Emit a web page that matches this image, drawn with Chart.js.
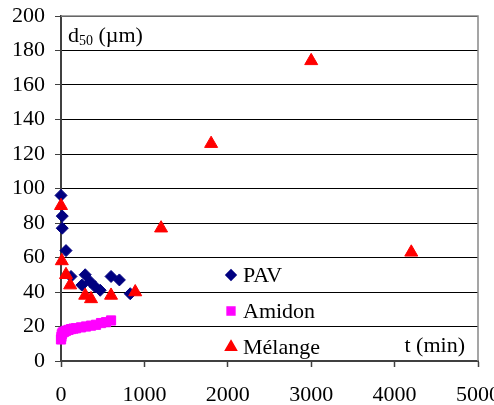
<!DOCTYPE html>
<html>
<head>
<meta charset="utf-8">
<script src="https://cdn.jsdelivr.net/npm/chart.js@4/dist/chart.umd.min.js"></script>
<style>
  body { margin: 0; background: #fff; }
  canvas { display: block; }
</style>
</head>
<body>
<canvas id="chart" width="494" height="405"></canvas>
<script>
// data: t in min, d50 in um
const pavT = [0, 15, 15, 60, 120, 250, 290, 350, 410, 470, 600, 700, 830];
const pavD = [96, 84, 77, 64, 49, 44, 50, 46, 43, 41, 49, 47, 39];

const amidonT = [0, 5, 10, 20, 40, 60, 90, 120, 150, 180, 240, 300, 360, 420, 480, 540, 600];
const amidonD = [12.5, 14, 15.5, 16.5, 17, 17.5, 18, 18.5, 18.8, 19, 19.5, 20, 20.5, 21, 22, 22.5, 23.5];

const melangeT = [0, 10, 60, 110, 290, 360, 600, 890, 1200, 1800, 3000, 4200];
const melangeD = [90, 58, 50, 44, 38, 36, 38, 40, 77, 126, 174, 63];

const yTicks = [0, 20, 40, 60, 80, 100, 120, 140, 160, 180, 200];
const xTicks = [0, 1000, 2000, 3000, 4000, 5000];

const FONT = "'Liberation Serif', 'Times New Roman', serif";

function toPoints(xs, ys) {
  return xs.map((x, i) => ({ x: x, y: ys[i] }));
}

const series = [
  { label: "PAV", x: pavT, y: pavD, color: "#000080", style: "rectRot", radius: 6, order: 1 },
  { label: "Amidon", x: amidonT, y: amidonD, color: "#FF00FF", style: "rect", radius: 6.5, order: 2 },
  { label: "Mélange", x: melangeT, y: melangeD, color: "#FF0000", style: "triangle", radius: 7.5, order: 0 }
];

// frame, axis titles and the legend inside the plot
const extras = {
  id: "extras",
  afterDraw(chart) {
    const ctx = chart.ctx;
    const a = chart.chartArea;
    ctx.save();
    ctx.strokeStyle = "#888888";
    ctx.lineWidth = 1.5;
    ctx.beginPath();
    ctx.moveTo(a.left, a.top);
    ctx.lineTo(a.right, a.top);
    ctx.lineTo(a.right, a.bottom);
    ctx.stroke();

    ctx.fillStyle = "#000";
    ctx.textBaseline = "alphabetic";
    ctx.textAlign = "left";
    ctx.font = "22px " + FONT;
    ctx.fillText("d", 68, 42);
    let w = ctx.measureText("d").width;
    ctx.font = "14px " + FONT;
    ctx.fillText("50", 68 + w, 45);
    w += ctx.measureText("50").width;
    ctx.font = "22px " + FONT;
    ctx.fillText(" (µm)", 68 + w, 42);

    ctx.textAlign = "right";
    ctx.fillText("t (min)", 465, 352);

    const rows = [275, 311, 347];
    series.forEach((s, i) => {
      ctx.fillStyle = s.color;
      ctx.strokeStyle = s.color;
      Chart.helpers.drawPoint(ctx, { pointStyle: s.style, radius: s.radius * 0.85, rotation: 0, borderWidth: 1 }, 231, rows[i]);
      ctx.fillStyle = "#000";
      ctx.textAlign = "left";
      ctx.textBaseline = "middle";
      ctx.fillText(s.label, 243, rows[i] + 1);
    });
    ctx.restore();
  }
};

// keep the plot area fixed, let edge labels overhang
function noEdgePadding(scale) {
  scale.paddingLeft = 0;
  scale.paddingRight = 0;
  scale.paddingTop = 0;
  scale.paddingBottom = 0;
}

new Chart(document.getElementById("chart"), {
  type: "scatter",
  data: {
    datasets: series.map(s => ({
      label: s.label,
      data: toPoints(s.x, s.y),
      pointStyle: s.style,
      pointRadius: s.radius,
      pointBackgroundColor: s.color,
      pointBorderColor: s.color,
      pointBorderWidth: 1,
      clip: false,
      order: s.order
    }))
  },
  options: {
    responsive: false,
    animation: false,
    layout: { padding: { top: 16, right: 16, left: 0, bottom: 0 } },
    plugins: { legend: { display: false }, tooltip: { enabled: false } },
    scales: {
      x: {
        type: "linear",
        min: 0,
        max: 5000,
        afterBuildTicks: scale => { scale.ticks = xTicks.map(v => ({ value: v })); },
        afterFit: scale => { scale.height = 44; noEdgePadding(scale); },
        ticks: { color: "#000", font: { family: FONT, size: 22 }, padding: 15, maxRotation: 0, callback: v => String(v) },
        grid: { drawOnChartArea: false, drawTicks: true, tickLength: 6, tickColor: "#404040", tickWidth: 1.5 },
        border: { color: "#404040", width: 2 }
      },
      y: {
        type: "linear",
        min: 0,
        max: 200,
        afterBuildTicks: scale => { scale.ticks = yTicks.map(v => ({ value: v })); },
        afterFit: scale => { scale.width = 61; noEdgePadding(scale); },
        ticks: { color: "#000", font: { family: FONT, size: 22 }, padding: 10 },
        grid: { color: "#000", lineWidth: 1, tickLength: 6, tickColor: "#404040" },
        border: { color: "#404040", width: 2 }
      }
    }
  },
  plugins: [extras]
});
</script>
</body>
</html>
